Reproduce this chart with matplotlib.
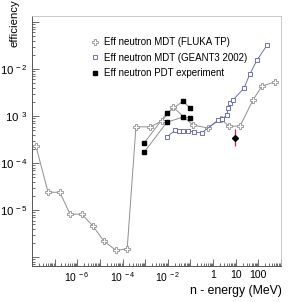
import math
import matplotlib
matplotlib.use("Agg")
import matplotlib.pyplot as plt
from matplotlib.ticker import LogLocator, FuncFormatter, NullFormatter
from matplotlib.lines import Line2D

plt.rcParams['font.family'] = ['Liberation Sans', 'DejaVu Sans']
plt.rcParams['mathtext.default'] = 'regular'

# ---- data (energy in MeV, efficiency) ----
fluka_e = [1.5e-8, 5.1e-8, 1.7e-7, 4.8e-7, 1.6e-6, 4.9e-6, 1.5e-5, 5.1e-5, 1.6e-4,
           3.9e-4, 1.6e-3, 5.5e-3, 1.7e-2, 0.13, 0.59, 2.2, 5.0, 15.5, 58, 144, 540]
fluka_eff = [2.3e-4, 2.4e-5, 2.4e-5, 8.2e-6, 8.2e-6, 4.6e-6, 2.2e-6, 1.4e-6, 1.5e-6,
             5.9e-4, 5.9e-4, 7.8e-4, 1.55e-3, 6.4e-4, 5.6e-4, 8.7e-4, 6.1e-4, 6.1e-4,
             2.2e-3, 4.35e-3, 5.3e-3]

geant_e = [9.1e-3, 0.021, 0.031, 0.047, 0.078, 0.144, 0.32, 1.66, 2.5, 4.1, 4.6,
           5.6, 7.6, 23, 42, 87, 240]
geant_eff = [3.6e-4, 5.0e-4, 4.8e-4, 4.8e-4, 4.8e-4, 4.6e-4, 4.4e-4, 8.2e-4, 8.7e-4,
             1.05e-3, 1.48e-3, 1.9e-3, 2.2e-3, 3.9e-3, 7.8e-3, 1.55e-2, 3.2e-2]

pdt_e = [8.9e-4, 9.1e-3, 0.047, 0.096]
pdt_eff_high = [2.66e-4, 1.15e-3, 2.08e-3, 1.48e-3]
pdt_eff_low = [1.7e-4, 7.4e-4, 9.5e-4, 9.1e-4]

single_e = [9.4]
single_eff = [3.5e-4]
single_err_lo = [1.2e-4]
single_err_hi = [1.8e-4]

labels = ["Eff neutron MDT (FLUKA TP)",
          "Eff neutron MDT (GEANT3 2002)",
          "Eff neutron PDT experiment"]
xtick_text = {-6: '10$^{\\,-6}$', -4: '10$^{\\,-4}$', -2: '10$^{\\,-2}$',
              0: '1', 1: '10', 2: '100'}
ytick_text = {-2: '10$^{\\,-2}$', -3: '10$^{\\,\\ 3}$', -4: '10$^{\\,-4}$',
              -5: '10$^{\\,-5}$'}

grey = '#8f8f8f'
blue = '#5a5ab4'

fig = plt.figure(figsize=(3.0, 3.02), dpi=100)
ax = fig.add_axes([32/300, 1-266/302, 249/300, 250/302])
ax.set_xscale('log')
ax.set_yscale('log')
ax.set_xlim(1e-8, 1e3)
ax.set_ylim(6.5e-7, 0.134)

ax.plot(fluka_e, fluka_eff, color=grey, lw=0.7, marker='P', ms=4.2,
        mfc='white', mec=grey, mew=0.6, zorder=3)
ax.plot(geant_e, geant_eff, color=blue, lw=0.6, marker='s', ms=3.3,
        mfc='white', mec=blue, mew=0.6, zorder=3)
ax.plot(pdt_e, pdt_eff_high, color=grey, lw=0.7, zorder=2)
ax.plot(pdt_e, pdt_eff_low, color=grey, lw=0.7, zorder=2)
ax.plot(pdt_e, pdt_eff_high, ls='none', marker='s', ms=3.2, color='black', zorder=4)
ax.plot(pdt_e, pdt_eff_low, ls='none', marker='s', ms=3.2, color='black', zorder=4)
ax.errorbar(single_e, single_eff, yerr=[single_err_lo, single_err_hi], fmt='D',
            ms=3.0, color='black', ecolor='#e02020', elinewidth=0.9, capsize=0,
            zorder=5)

handles = [Line2D([], [], ls='none', marker='P', ms=4.2, mfc='white', mec=grey, mew=0.6),
           Line2D([], [], ls='none', marker='s', ms=3.5, mfc='white', mec=blue, mew=0.6),
           Line2D([], [], ls='none', marker='s', ms=3.5, color='black')]
ax.legend(handles, labels, loc='upper left', bbox_to_anchor=(59/249, 1-21/250),
          frameon=False, fontsize=7.0, handlelength=0.9, handletextpad=0.45,
          labelspacing=0.58, borderpad=0, borderaxespad=0)

ax.xaxis.set_major_locator(LogLocator(base=10, numticks=20))
ax.xaxis.set_minor_locator(LogLocator(base=10, subs=range(2, 10), numticks=20))
ax.xaxis.set_major_formatter(FuncFormatter(
    lambda v, p: xtick_text.get(int(round(math.log10(v))), '')))
ax.xaxis.set_minor_formatter(NullFormatter())
ax.yaxis.set_major_locator(LogLocator(base=10, numticks=20))
ax.yaxis.set_minor_locator(LogLocator(base=10, subs=range(2, 10), numticks=20))
ax.yaxis.set_major_formatter(FuncFormatter(
    lambda v, p: ytick_text.get(int(round(math.log10(v))), '')))
ax.yaxis.set_minor_formatter(NullFormatter())

ax.tick_params(which='both', direction='in', top=False, right=False,
               color='#555555', width=0.6)
ax.tick_params(axis='x', labelsize=7.5)
ax.tick_params(axis='y', labelsize=8.2)
ax.tick_params(which='major', length=5, pad=3)
ax.tick_params(which='minor', length=2.5)

for s in ['left', 'bottom']:
    ax.spines[s].set_color('#555555')
    ax.spines[s].set_linewidth(0.7)
for s in ['top', 'right']:
    ax.spines[s].set_color('#c0c0c0')
    ax.spines[s].set_linewidth(0.6)

fig.text(14/300, 1-23/302, 'efficiency', rotation=90, ha='center', va='center',
         fontsize=8.2)
fig.text(236/300, 1-291/302, 'n - energy (MeV)', ha='center', va='center',
         fontsize=8.8)

fig.savefig('out.png', dpi=100)
